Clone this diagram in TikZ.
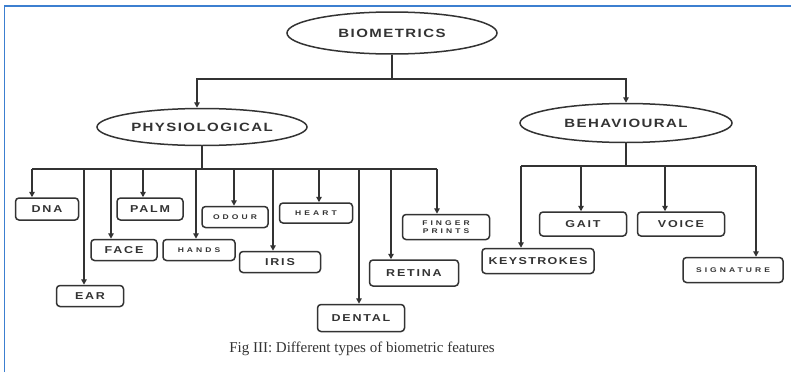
\documentclass[tikz,border=0pt]{standalone}
\usepackage{fontspec}
\setmainfont{Liberation Serif}
\newfontfamily\lblfont{Liberation Sans}[FakeStretch=1.25]
\usetikzlibrary{shapes.geometric,arrows.meta}
\definecolor{ink}{HTML}{333333}
\definecolor{frameblue}{HTML}{3C7FD0}
\tikzset{
  conn/.style={draw=ink, line width=1.6pt},
  arr/.style={conn, -{Triangle[length=5.5pt,width=5.5pt]}},
  oval/.style={ellipse, draw=ink, line width=1.5pt, inner sep=0pt, text=ink,
    font=\lblfont\bfseries\fontsize{12}{13}\selectfont\addfontfeature{LetterSpace=12}},
  leaf/.style={draw=ink, line width=1.5pt, rounded corners=3.5pt, inner sep=0pt,
    text=ink, align=center,
    font=\lblfont\bfseries\fontsize{10}{11}\selectfont\addfontfeature{LetterSpace=18}},
  tiny/.style={font=\lblfont\bfseries\fontsize{6.8}{8}\selectfont\addfontfeature{LetterSpace=45}},
}
\begin{document}
\begin{tikzpicture}[x=1pt,y=-1pt]
\useasboundingbox (0,0) rectangle (791,372);
% page frame (left and top only)
\draw[frameblue, line width=1.8pt] (4.5,372) -- (4.5,6) -- (791,6);

% top level
\node[oval, minimum width=210pt, minimum height=42pt] (bio) at (392,33) {BIOMETRICS};
\node[oval, minimum width=210pt, minimum height=37pt] (phy) at (202,127) {PHYSIOLOGICAL};
\node[oval, minimum width=212pt, minimum height=39pt] (beh) at (626,123) {BEHAVIOURAL};

\coordinate (tb) at (392,79);
\draw[conn] (bio.south) -- (tb);
\draw[arr] (tb) -| ([xshift=-5pt]phy.north);
\draw[arr] (tb) -| (beh.north);

% physiological leaves
\node[leaf, minimum width=63pt, minimum height=22pt] (dna)   at (47,209)  {DNA};
\node[leaf, minimum width=66pt, minimum height=22pt] (palm)  at (150,209) {PALM};
\node[leaf, minimum width=66pt, minimum height=21pt] (face)  at (124,250) {FACE};
\node[leaf, tiny, minimum width=72pt, minimum height=21pt] (hands) at (199,250) {HANDS};
\node[leaf, minimum width=67pt, minimum height=21pt] (ear)   at (90,296)  {EAR};
\node[leaf, tiny, minimum width=66pt, minimum height=21pt] (odour) at (235,217) {ODOUR};
\node[leaf, tiny, minimum width=73pt, minimum height=20pt] (heart) at (316,213) {HEART};
\node[leaf, minimum width=81pt, minimum height=21pt] (iris)  at (280,262) {IRIS};
\node[leaf, minimum width=87pt, minimum height=27pt] (dental) at (361,318) {DENTAL};
\node[leaf, minimum width=89pt, minimum height=26pt] (retina) at (414,273) {RETINA};
\node[leaf, tiny, minimum width=87pt, minimum height=25pt] (finger) at (446,227) {FINGER\\PRINTS};

\coordinate (pb) at (202,169);
\draw[conn] (phy.south) -- (pb);
\coordinate (pl) at (32,169);
\coordinate (pr) at (437,169);
\draw[conn] (pl) -- (pr);
\foreach \x/\n in {32/dna, 84/ear, 111/face, 143/palm, 196/hands, 234/odour,
                   273/iris, 319/heart, 359/dental, 391/retina, 437/finger}{
  \coordinate (d\n) at (\x,169);
  \draw[arr] (d\n) -- (d\n |- \n.north);
}

% behavioural leaves
\node[leaf, minimum width=112pt, minimum height=25pt, font=\lblfont\bfseries\fontsize{10}{11}\selectfont\addfontfeature{LetterSpace=14}] (keys) at (538,261) {KEYSTROKES};
\node[leaf, minimum width=87pt, minimum height=24pt] (gait)  at (583,224) {GAIT};
\node[leaf, minimum width=87pt, minimum height=24pt] (voice) at (681,224) {VOICE};
\node[leaf, tiny, minimum width=100pt, minimum height=25pt] (sig) at (733,270) {SIGNATURE};

\coordinate (bb) at (626,166);
\draw[conn] (beh.south) -- (bb);
\coordinate (bl) at (521,166);
\coordinate (br) at (756,166);
\draw[conn] (bl) -- (br);
\foreach \x/\n in {521/keys, 581/gait, 665/voice, 756/sig}{
  \coordinate (e\n) at (\x,166);
  \draw[arr] (e\n) -- (e\n |- \n.north);
}

% caption
\node[text=ink, font=\fontsize{15}{17}\selectfont] (cap) at (362,349)
  {Fig III: Different types of biometric features};
\end{tikzpicture}
\end{document}
